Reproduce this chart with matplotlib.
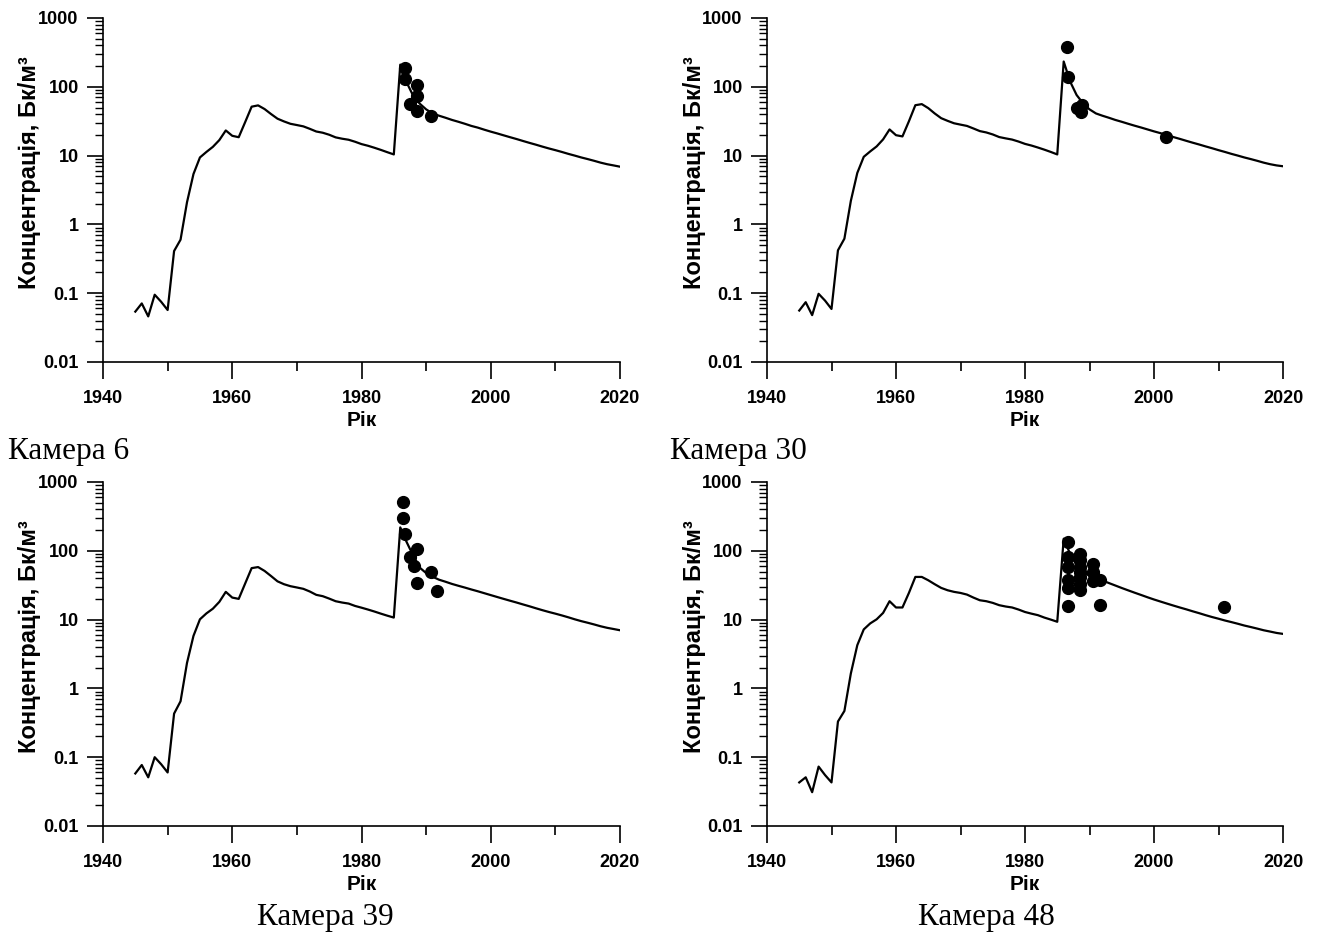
import matplotlib
matplotlib.use("Agg")
import matplotlib.pyplot as plt
from matplotlib.ticker import MultipleLocator, LogLocator, NullFormatter

# Model years shared by all four chambers
years = list(range(1945, 2021))

# Modelled concentration, Bq/m3 (one value per year 1945..2020)
model_cam6 = [
    0.054, 0.071, 0.046, 0.095, 0.075, 0.057,
    0.41, 0.60, 2.1, 5.4, 9.4, 11.3, 13.4, 16.8, 23.2, 19.4,
    18.5, 30.7, 51.4, 53.7, 47.5, 40.2, 34.4, 31.4, 29.0, 27.8,
    26.6, 24.5, 22.4, 21.5, 20.1, 18.4, 17.6, 17.0, 15.9, 14.7,
    13.9, 13.0, 12.1, 11.2, 10.4, 210, 115, 74, 57, 47,
    41, 38, 35.5, 33, 31, 29, 27, 25.5, 23.8, 22.3,
    21, 19.7, 18.5, 17.4, 16.3, 15.3, 14.4, 13.5, 12.7, 12.0,
    11.3, 10.6, 10.0, 9.4, 8.9, 8.4, 7.9, 7.5, 7.2, 6.9,
]
model_cam30 = [
    0.056, 0.074, 0.048, 0.098, 0.078, 0.059,
    0.42, 0.62, 2.2, 5.6, 9.6, 11.5, 13.6, 17.2, 24.0, 19.8,
    19.0, 31.5, 54.0, 56.0, 49.0, 41.0, 35.0, 32.0, 29.5, 28.2,
    27.0, 24.8, 22.7, 21.7, 20.3, 18.6, 17.8, 17.1, 16.0, 14.8,
    14.0, 13.1, 12.2, 11.3, 10.4, 233, 119, 76, 57.5, 47,
    41, 38, 35.5, 33, 31, 29, 27.2, 25.6, 24.0, 22.5,
    21.2, 19.8, 18.6, 17.5, 16.4, 15.4, 14.5, 13.6, 12.8, 12.0,
    11.3, 10.6, 10.0, 9.4, 8.9, 8.4, 7.9, 7.5, 7.2, 7.0,
]
model_cam39 = [
    0.058, 0.077, 0.051, 0.10, 0.079, 0.060,
    0.43, 0.65, 2.35, 5.8, 10.1, 12.3, 14.4, 18.1, 25.3, 20.9,
    20.0, 33.5, 56, 58, 51, 43, 36, 32.7, 30.6, 29.3,
    28.0, 25.6, 22.9, 21.9, 20.2, 18.5, 17.7, 17.1, 15.8, 14.9,
    14.0, 13.1, 12.2, 11.4, 10.7, 219, 133, 85, 57, 47.5,
    42, 38, 35.5, 33, 31, 29.2, 27.4, 25.8, 24.2, 22.7,
    21.3, 20.0, 18.8, 17.7, 16.6, 15.6, 14.6, 13.7, 12.9, 12.2,
    11.5, 10.8, 10.1, 9.5, 9.0, 8.5, 8.0, 7.6, 7.3, 7.0,
]
model_cam48 = [
    0.043, 0.051, 0.031, 0.073, 0.055, 0.043,
    0.33, 0.47, 1.65, 4.25, 7.2, 8.8, 10.1, 12.5, 18.5, 15.0,
    15.0, 24.4, 41.7, 41.7, 37.3, 32.7, 28.9, 26.7, 25.3, 24.4,
    23.1, 20.9, 19.1, 18.5, 17.5, 16.2, 15.5, 15.0, 14.0, 12.9,
    12.2, 11.6, 10.7, 10.0, 9.3, 150, 90, 62, 50, 43,
    40, 37, 34, 31.3, 28.8, 26.6, 24.6, 22.8, 21.1, 19.6,
    18.3, 17.1, 16.0, 15.0, 14.1, 13.2, 12.4, 11.6, 10.9, 10.3,
    9.7, 9.2, 8.7, 8.2, 7.8, 7.4, 7.0, 6.7, 6.4, 6.2,
]

# Measured values (year, concentration)
obs_cam6_x = [1986.8, 1986.8, 1988.6, 1988.6, 1987.5, 1988.6, 1990.7]
obs_cam6_y = [190, 129, 106, 74, 56, 44.5, 38]

obs_cam30_x = [1986.45, 1986.7, 1988.1, 1988.8, 1988.7, 2001.9]
obs_cam30_y = [378, 138, 48.6, 54, 43.5, 18.8]

obs_cam39_x = [1986.4, 1986.4, 1986.7, 1988.6, 1987.5, 1988.1, 1990.7, 1988.6, 1991.7]
obs_cam39_y = [510, 301, 176, 107, 82, 60.7, 49.5, 33.9, 26.2]

obs_cam48_x = [1986.7, 1986.7, 1986.7, 1986.7, 1986.7, 1986.7,
               1988.6, 1988.6, 1988.6, 1988.6, 1988.6, 1988.6, 1988.6,
               1990.6, 1990.6, 1990.6, 1991.7, 1991.7, 2010.8]
obs_cam48_y = [135, 81, 58, 38, 29, 16,
               91, 73, 58, 49, 41, 33, 27,
               64, 49, 37, 38, 16.2, 15.3]

captions = ["Камера 6", "Камера 30", "Камера 39", "Камера 48"]
ytick_vals = [0.01, 0.1, 1, 10, 100, 1000]
ytick_text = ["0.01", "0.1", "1", "10", "100", "1000"]

W, H = 1317, 935
fig = plt.figure(figsize=(W / 100, H / 100), dpi=100)

sans = "Liberation Sans"
serif = "Liberation Serif"

# axes boxes in pixels: left, right, top, bottom
boxes = [(103, 620, 18, 362), (767, 1283, 18, 362),
         (103, 620, 482, 826), (767, 1283, 482, 826)]
models = [model_cam6, model_cam30, model_cam39, model_cam48]
obs = [(obs_cam6_x, obs_cam6_y), (obs_cam30_x, obs_cam30_y),
       (obs_cam39_x, obs_cam39_y), (obs_cam48_x, obs_cam48_y)]

for (l, r, t, b), model, (ox, oy) in zip(boxes, models, obs):
    ax = fig.add_axes([l / W, 1 - b / H, (r - l) / W, (b - t) / H])
    ax.plot(years, model, color="black", lw=1.6, zorder=2)
    ax.plot(ox, oy, "o", color="black", ms=8.5, zorder=3, clip_on=False)

    ax.set_yscale("log")
    ax.set_xlim(1940, 2020)
    ax.set_ylim(0.01, 1000)

    for side in ("top", "right"):
        ax.spines[side].set_visible(False)
    for side in ("left", "bottom"):
        ax.spines[side].set_linewidth(1.2)

    ax.xaxis.set_major_locator(MultipleLocator(20))
    ax.xaxis.set_minor_locator(MultipleLocator(10))
    ax.set_yticks(ytick_vals)
    ax.set_yticklabels(ytick_text)
    ax.yaxis.set_minor_locator(LogLocator(base=10, subs=range(2, 10)))
    ax.yaxis.set_minor_formatter(NullFormatter())

    ax.tick_params(axis="x", which="major", direction="out", length=12, width=1.2, pad=8)
    ax.tick_params(axis="x", which="minor", direction="out", length=6.5, width=1.2)
    ax.tick_params(axis="y", which="major", direction="out", length=11.5, width=1.2, pad=6)
    ax.tick_params(axis="y", which="minor", direction="out", length=5.5, width=1.0)
    for lab in ax.get_xticklabels() + ax.get_yticklabels():
        lab.set_fontfamily(sans)
        lab.set_fontweight("bold")
        lab.set_fontsize(13)

    ax.set_xlabel("Рік", fontfamily=sans, fontweight="bold", fontsize=15, va="center")
    ax.xaxis.set_label_coords(0.5, -58 / (b - t))
    ax.set_ylabel("Концентрація, Бк/м³", fontfamily=sans, fontweight="bold",
                  fontsize=17, va="center")
    ax.yaxis.set_label_coords(-73 / (r - l), (b - t - 155) / (b - t))

# chamber captions
fig.text(8 / W, 1 - 452 / H, captions[0], fontfamily=serif, fontsize=22.5, ha="left", va="center")
fig.text(670 / W, 1 - 452 / H, captions[1], fontfamily=serif, fontsize=22.5, ha="left", va="center")
fig.text(325 / W, 1 - 918 / H, captions[2], fontfamily=serif, fontsize=22.5, ha="center", va="center")
fig.text(986 / W, 1 - 918 / H, captions[3], fontfamily=serif, fontsize=22.5, ha="center", va="center")

fig.savefig("out.png", dpi=100)
